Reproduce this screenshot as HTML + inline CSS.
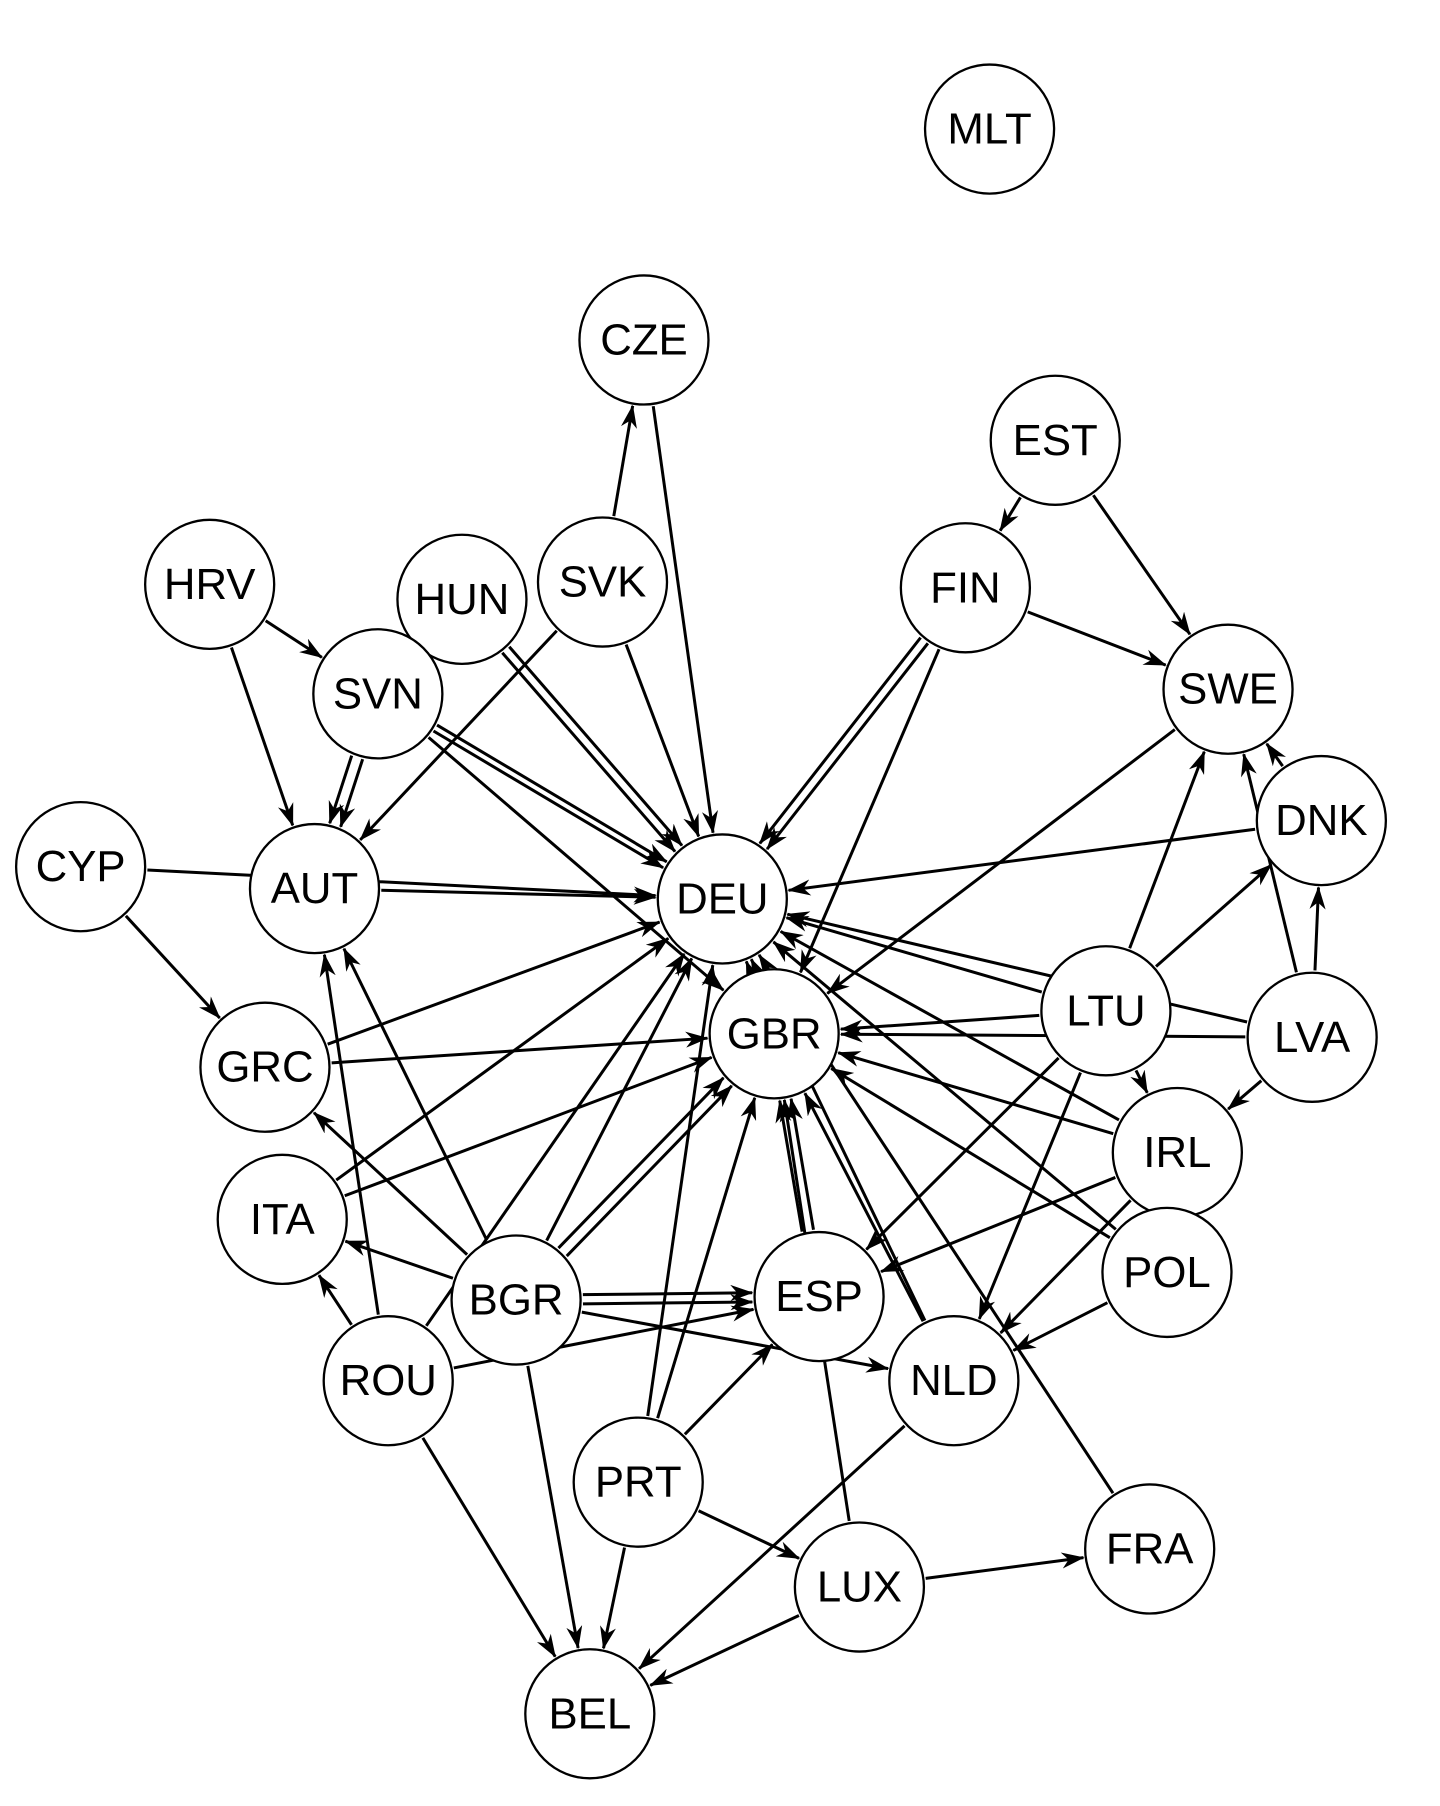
<!DOCTYPE html>
<html><head><meta charset="utf-8"><style>
html,body{margin:0;padding:0;background:#fff;}
svg{display:block;}
text{font-family:"Liberation Sans",Arial,sans-serif;font-size:38px;text-anchor:middle;dominant-baseline:central;fill:#000;}
circle{fill:#fff;stroke:#000;stroke-width:2;}
</style></head><body>
<svg id="s" width="1440" height="1806" viewBox="0 0 1250 1567" preserveAspectRatio="none" xmlns="http://www.w3.org/2000/svg">
<defs><marker id="a" viewBox="0 0 20 14" refX="19" refY="7" markerWidth="20" markerHeight="14" markerUnits="userSpaceOnUse" orient="auto"><path d="M0,0 L20,7 L0,14 L6,7 Z" fill="#000"/></marker></defs>
<g id="edges" stroke="#000" stroke-width="2.6" fill="none"></g>
<g id="nodes">
<circle cx="859" cy="112" r="56"/><text x="859" y="112">MLT</text>
<circle cx="559" cy="295" r="56"/><text x="559" y="295">CZE</text>
<circle cx="916" cy="382" r="56"/><text x="916" y="382">EST</text>
<circle cx="182" cy="507" r="56"/><text x="182" y="507">HRV</text>
<circle cx="401" cy="520" r="56"/><text x="401" y="520">HUN</text>
<circle cx="523" cy="505" r="56"/><text x="523" y="505">SVK</text>
<circle cx="838" cy="510" r="56"/><text x="838" y="510">FIN</text>
<circle cx="328" cy="602" r="56"/><text x="328" y="602">SVN</text>
<circle cx="1066" cy="598" r="56"/><text x="1066" y="598">SWE</text>
<circle cx="1147" cy="712" r="56"/><text x="1147" y="712">DNK</text>
<circle cx="70" cy="752" r="56"/><text x="70" y="752">CYP</text>
<circle cx="273" cy="771" r="56"/><text x="273" y="771">AUT</text>
<circle cx="627" cy="780" r="56"/><text x="627" y="780">DEU</text>
<circle cx="672" cy="897" r="56"/><text x="672" y="897">GBR</text>
<circle cx="960" cy="877" r="56"/><text x="960" y="877">LTU</text>
<circle cx="1139" cy="900" r="56"/><text x="1139" y="900">LVA</text>
<circle cx="230" cy="926" r="56"/><text x="230" y="926">GRC</text>
<circle cx="1022" cy="1000" r="56"/><text x="1022" y="1000">IRL</text>
<circle cx="245" cy="1058" r="56"/><text x="245" y="1058">ITA</text>
<circle cx="1013" cy="1104" r="56"/><text x="1013" y="1104">POL</text>
<circle cx="448" cy="1128" r="56"/><text x="448" y="1128">BGR</text>
<circle cx="711" cy="1125" r="56"/><text x="711" y="1125">ESP</text>
<circle cx="337" cy="1198" r="56"/><text x="337" y="1198">ROU</text>
<circle cx="828" cy="1198" r="56"/><text x="828" y="1198">NLD</text>
<circle cx="554" cy="1286" r="56"/><text x="554" y="1286">PRT</text>
<circle cx="746" cy="1377" r="56"/><text x="746" y="1377">LUX</text>
<circle cx="998" cy="1344" r="56"/><text x="998" y="1344">FRA</text>
<circle cx="512" cy="1487" r="56"/><text x="512" y="1487">BEL</text>
</g>
</svg>
<script>
var N={MLT:[859,112],CZE:[559,295],EST:[916,382],HRV:[182,507],HUN:[401,520],SVK:[523,505],FIN:[838,510],SVN:[328,602],SWE:[1066,598],DNK:[1147,712],CYP:[70,752],AUT:[273,771],DEU:[627,780],GBR:[672,897],LTU:[960,877],LVA:[1139,900],GRC:[230,926],IRL:[1022,1000],ITA:[245,1058],POL:[1013,1104],BGR:[448,1128],ESP:[711,1125],ROU:[337,1198],NLD:[828,1198],PRT:[554,1286],LUX:[746,1377],FRA:[998,1344],BEL:[512,1487]};
var E=[["CZE","DEU",0],["SVK","CZE",0],["EST","FIN",0],["EST","SWE",0],["FIN","SWE",0],["FIN","DEU",4],["FIN","DEU",-4],["FIN","GBR",0],
["HRV","SVN",0],["HRV","AUT",0],["HUN","DEU",4],["HUN","DEU",-4],["SVK","DEU",0],["SVK","AUT",0],["SVN","AUT",5],["SVN","AUT",-5],
["SVN","DEU",3],["SVN","DEU",-3],["SVN","GBR",0],["CYP","DEU",0],["CYP","GRC",0],["AUT","DEU",0],["SWE","GBR",0],["DNK","SWE",0],["DNK","DEU",0],
["LTU","SWE",0],["LTU","DNK",0],["LTU","DEU",0],["LTU","GBR",0],["LTU","IRL",0],["LTU","ESP",0],["LTU","NLD",0],
["LVA","DNK",0],["LVA","SWE",0],["LVA","IRL",0],["LVA","DEU",0],["LVA","GBR",0],["IRL","DEU",0],["IRL","GBR",0],["IRL","ESP",0],["IRL","NLD",0],
["POL","DEU",0],["POL","GBR",0],["POL","NLD",0],["GRC","DEU",0],["GRC","GBR",0],["ITA","DEU",0],["ITA","GBR",0],
["BGR","ITA",0],["BGR","GRC",0],["BGR","AUT",0],["BGR","DEU",0],["BGR","GBR",5],["BGR","GBR",-5],["BGR","ESP",4],["BGR","ESP",-4],["BGR","NLD",0],["BGR","BEL",0],
["ROU","ITA",0],["ROU","AUT",0],["ROU","ESP",0],["ROU","BEL",0],["ROU","DEU",0],["PRT","DEU",0],["PRT","GBR",0],["PRT","ESP",0],["PRT","LUX",0],["PRT","BEL",0],
["ESP","GBR",5],["ESP","GBR",-5],["LUX","GBR",0],["LUX","FRA",0],["LUX","BEL",0],["NLD","BEL",0],["NLD","GBR",0],["NLD","DEU",0],["FRA","DEU",0],["GBR","DEU",0]];
var g=document.getElementById("edges"),r=58,s="";
E.forEach(function(e){var a=N[e[0]],b=N[e[1]],dx=b[0]-a[0],dy=b[1]-a[1],L=Math.sqrt(dx*dx+dy*dy),ux=dx/L,uy=dy/L,px=-uy*e[2],py=ux*e[2];
s+='<line x1="'+(a[0]+ux*r+px)+'" y1="'+(a[1]+uy*r+py)+'" x2="'+(b[0]-ux*r+px)+'" y2="'+(b[1]-uy*r+py)+'" marker-end="url(#a)"/>';});
g.innerHTML=s;
</script>
</body></html>
